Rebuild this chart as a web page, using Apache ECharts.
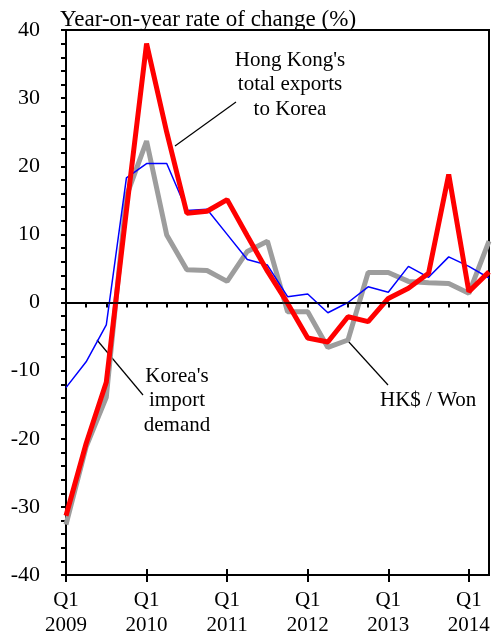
<!DOCTYPE html>
<html>
<head>
<meta charset="utf-8">
<script src="https://cdn.jsdelivr.net/npm/echarts@6/dist/echarts.min.js"></script>
<style>
  html, body {margin: 0; padding: 0; background: #fff;}
  #chart {width: 494px; height: 635px;}
</style>
</head>
<body>
<div id="chart"></div>
<script>
function $(id) {return document.getElementById(id)}

// quarters Q1 2009 .. Q2 2014
var quarters = [
  'Q1 2009', 'Q2 2009', 'Q3 2009', 'Q4 2009',
  'Q1 2010', 'Q2 2010', 'Q3 2010', 'Q4 2010',
  'Q1 2011', 'Q2 2011', 'Q3 2011', 'Q4 2011',
  'Q1 2012', 'Q2 2012', 'Q3 2012', 'Q4 2012',
  'Q1 2013', 'Q2 2013', 'Q3 2013', 'Q4 2013',
  'Q1 2014', 'Q2 2014'
];

// Hong Kong's total exports to Korea
var hkExports = [-31.3, -20.7, -11.7, 13.5, 38.0, 25.0, 13.1, 13.4, 15.1, 9.8, 4.6, -0.1,
  -5.2, -5.8, -2.1, -2.8, 0.6, 2.1, 4.3, 18.8, 1.6, 4.5];

// Korea's import demand
var koreaImports = [-12.5, -8.7, -3.3, 18.3, 20.4, 20.4, 13.5, 13.7, 10.0, 6.3, 5.5, 0.85,
  1.25, -1.5, 0.0, 2.3, 1.5, 5.3, 3.7, 6.7, 5.3, 3.6];

// HK$ / Won
var hkdWon = [-32.6, -21.2, -13.9, 15.6, 23.7, 9.9, 4.8, 4.7, 3.1, 7.5, 9.0, -1.35,
  -1.35, -6.6, -5.5, 4.4, 4.4, 3.1, 2.9, 2.8, 1.35, 9.0];

var yMin = -40, yMax = 40;

var font = 'Liberation Serif';
var noteFont = '21px "Liberation Serif"';

var chart = echarts.init($('chart'));
chart.setOption({
  animation: false,
  title: {
    text: 'Year-on-year rate of change (%)',
    left: 55,
    top: 3,
    textStyle: {fontFamily: font, fontSize: 23, fontWeight: 'normal', color: '#000'}
  },
  grid: {
    left: 66, right: 5, top: 30, bottom: 60,
    outerBoundsMode: 'none',
    containLabel: false,
    show: true,
    borderColor: '#000',
    borderWidth: 2
  },
  xAxis: [
    {
      type: 'category',
      data: quarters,
      boundaryGap: false,
      axisLine: {lineStyle: {color: '#000', width: 2}},
      axisTick: {show: true, interval: 0, length: 5, lineStyle: {color: '#000', width: 2}},
      axisLabel: {
        interval: function (i) { return i % 4 === 0; },
        margin: 13,
        lineHeight: 25,
        fontFamily: font, fontSize: 21, color: '#000',
        formatter: function (v) { return v.replace(' ', '\n'); }
      },
      splitLine: {show: false}
    },
    {
      // long ticks at each Q1 (outside)
      type: 'category',
      data: quarters,
      boundaryGap: false,
      position: 'bottom',
      axisLine: {show: false},
      axisTick: {show: true, interval: 3, length: 7, lineStyle: {color: '#000', width: 2}},
      axisLabel: {show: false},
      splitLine: {show: false}
    },
    {
      // long ticks at each Q1 (inside)
      type: 'category',
      data: quarters,
      boundaryGap: false,
      position: 'bottom',
      axisLine: {show: false},
      axisTick: {show: true, inside: true, interval: 3, length: 6, lineStyle: {color: '#000', width: 2}},
      axisLabel: {show: false},
      splitLine: {show: false}
    }
  ],
  yAxis: {
    type: 'value',
    min: yMin,
    max: yMax,
    interval: 2,
    axisLine: {show: true, lineStyle: {color: '#000', width: 2}},
    axisTick: {show: true, length: 5, lineStyle: {color: '#000', width: 2}},
    axisLabel: {
      margin: 26,
      fontFamily: font, fontSize: 22, color: '#000',
      formatter: function (v) { return v % 10 === 0 ? String(v) : ''; }
    },
    splitLine: {show: false}
  },
  series: [
    {
      name: 'HK$ / Won',
      type: 'line',
      data: hkdWon,
      symbol: 'none',
      lineStyle: {color: '#9d9d9d', width: 5},
      z: 2,
      markLine: {
        silent: true,
        symbol: 'none',
        label: {show: false},
        lineStyle: {color: '#000', width: 1.5, type: 'solid'},
        data: [{yAxis: 0}]
      }
    },
    {
      name: "Korea's import demand",
      type: 'line',
      data: koreaImports,
      symbol: 'none',
      lineStyle: {color: '#0000ff', width: 1.5},
      z: 3
    },
    {
      name: "Hong Kong's total exports to Korea",
      type: 'line',
      data: hkExports,
      symbol: 'none',
      lineStyle: {color: '#ff0000', width: 5},
      z: 4
    }
  ],
  graphic: [
    {
      type: 'text', x: 290, y: 48,
      style: {text: "Hong Kong's\ntotal exports\nto Korea", align: 'center', verticalAlign: 'top', lineHeight: 24.5, font: noteFont, fill: '#000'}
    },
    {type: 'line', shape: {x1: 236, y1: 102, x2: 175, y2: 146}, style: {stroke: '#000', lineWidth: 1.2}},
    {
      type: 'text', x: 177, y: 364,
      style: {text: "Korea's\nimport\ndemand", align: 'center', verticalAlign: 'top', lineHeight: 24.5, font: noteFont, fill: '#000'}
    },
    {type: 'line', shape: {x1: 97, y1: 340, x2: 143, y2: 395}, style: {stroke: '#000', lineWidth: 1.2}},
    {
      type: 'text', x: 380, y: 390,
      style: {text: 'HK$ / Won', verticalAlign: 'top', font: noteFont, fill: '#000'}
    },
    {type: 'line', shape: {x1: 348, y1: 341, x2: 388, y2: 385}, style: {stroke: '#000', lineWidth: 1.2}}
  ]
});
</script>
</body>
</html>
